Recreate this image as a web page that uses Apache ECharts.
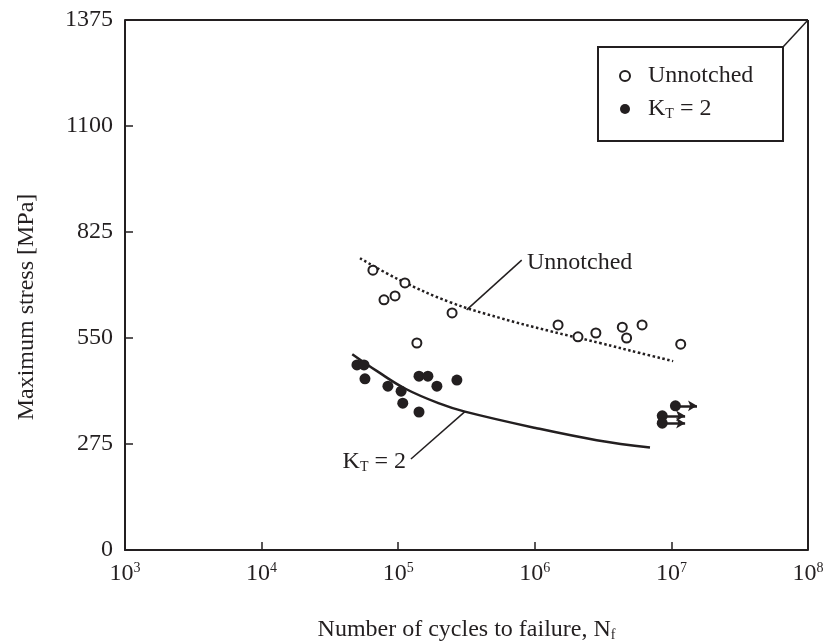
<!DOCTYPE html>
<html>
<head>
<meta charset="utf-8">
<script src="https://cdn.jsdelivr.net/npm/echarts@6/dist/echarts.min.js"></script>
<style>
  html, body { margin: 0; padding: 0; background: #fff; }
  #main { width: 823px; height: 642px; }
</style>
</head>
<body>
<div id="main"></div>
<script>
// valores (N ciclos, tensão máxima em MPa)
const unnotchedN = [65300, 112000, 78700, 94800, 248000, 137000, 1480000, 2070000, 2800000, 4370000, 4700000, 6100000, 11700000];
const unnotchedS = [726, 693, 649, 659, 615, 537, 584, 553, 563, 578, 550, 584, 534];

const notchedN = [49900, 56200, 57100, 84100, 105000, 108000, 142000, 165000, 192000, 269000, 142000, 10700000, 8570000, 8570000];
const notchedS = [480, 480, 444, 425, 412, 381, 451, 451, 425, 441, 358, 374, 348, 329];

// run-outs (setas)
const runoutStartN = [10700000, 8570000, 8570000];
const runoutEndN = [15400000, 12600000, 12600000];
const runoutS = [374, 348, 329];

// curvas ajustadas
const unnotchedCurveN = [52500, 103000, 239000, 556000, 1290000, 3000000, 5890000, 10300000];
const unnotchedCurveS = [757, 700, 643, 602, 568, 537, 511, 490];
const notchedCurveN = [46100, 71400, 112000, 197000, 308000, 1030000, 2840000, 6970000];
const notchedCurveS = [508, 462, 419, 381, 359, 316, 285, 266];

const yTicks = [0, 275, 550, 825, 1100, 1375];

const FONT = '"Liberation Serif", "DejaVu Serif", serif';
const INK = '#231f20';
const FS = 24;

const zip = (a, b) => a.map((v, i) => [v, b[i]]);

const chart = echarts.init(document.getElementById('main'));

const subStyle = { fontFamily: FONT, fontSize: 14, color: INK, verticalAlign: 'bottom', padding: [11, 0, 0, 0] };

const option = {
  animation: false,
  backgroundColor: '#fff',
  grid: { left: 125, right: 15, top: 20, bottom: 92, show: false, containLabel: false, outerBoundsMode: 'none' },
  xAxis: {
    type: 'log',
    logBase: 10,
    min: 1e3,
    max: 1e8,
    name: '{n|Number of cycles to failure, N}{s|f}',
    nameLocation: 'middle',
    nameGap: 67,
    nameTextStyle: {
      fontFamily: FONT, fontSize: FS, color: INK,
      rich: {
        n: { fontFamily: FONT, fontSize: FS, color: INK },
        s: subStyle
      }
    },
    axisLine: { show: true, lineStyle: { color: INK, width: 2 } },
    axisTick: { show: true, inside: true, length: 8, lineStyle: { color: INK, width: 1.5 } },
    minorTick: { show: false },
    splitLine: { show: false },
    axisLabel: {
      margin: 11,
      formatter: v => '{b|10}{e|' + Math.round(Math.log10(v)) + '}',
      rich: {
        b: { fontFamily: FONT, fontSize: FS, color: INK },
        e: { fontFamily: FONT, fontSize: 14, color: INK, verticalAlign: 'top', padding: [0, 0, 12, 0] }
      }
    }
  },
  yAxis: {
    type: 'value',
    min: yTicks[0],
    max: yTicks[yTicks.length - 1],
    interval: 275,
    name: 'Maximum stress [MPa]',
    nameLocation: 'middle',
    nameGap: 86,
    // desloca o título ~22px para baixo, como no original
    nameTextStyle: { fontFamily: FONT, fontSize: FS, color: INK, padding: [0, 44, 0, 0] },
    axisLine: { show: true, lineStyle: { color: INK, width: 2 } },
    axisTick: { show: true, inside: true, length: 8, lineStyle: { color: INK, width: 1.5 } },
    splitLine: { show: false },
    axisLabel: { fontFamily: FONT, fontSize: FS, color: INK, margin: 12, formatter: v => String(v) }
  },
  legend: {
    orient: 'vertical',
    left: 614,
    top: 59,
    itemWidth: 26,
    itemHeight: 10,
    itemGap: 9,
    textStyle: {
      fontFamily: FONT, fontSize: FS, color: INK, padding: [0, 0, 0, 5],
      rich: {
        a: { fontFamily: FONT, fontSize: FS, color: INK },
        s: subStyle
      }
    },
    formatter: name => name === 'Unnotched' ? '{a|Unnotched}' : '{a|K}{s|T}{a| = 2}',
    data: [
      { name: 'Unnotched', icon: 'emptyCircle' },
      { name: 'KT', icon: 'circle' }
    ]
  },
  graphic: [
    // caixa da legenda com a linha diagonal ao canto
    { type: 'rect', shape: { x: 598, y: 47, width: 185, height: 94 }, style: { fill: 'none', stroke: INK, lineWidth: 2 }, z: 10 },
    { type: 'line', shape: { x1: 783, y1: 47, x2: 808, y2: 20 }, style: { stroke: INK, lineWidth: 1.5 }, z: 10 },
    // borda superior e direita do gráfico
    { type: 'line', shape: { x1: 125, y1: 20, x2: 808, y2: 20 }, style: { stroke: INK, lineWidth: 2 }, z: 10 },
    { type: 'line', shape: { x1: 808, y1: 20, x2: 808, y2: 550 }, style: { stroke: INK, lineWidth: 2 }, z: 10 },
    // rótulos das curvas
    { type: 'text', x: 527, y: 263, style: { text: 'Unnotched', fontFamily: FONT, fontSize: FS, fill: INK, verticalAlign: 'middle' }, z: 10 },
    {
      type: 'text', x: 406, y: 462,
      style: {
        text: '{a|K}{s|T}{a| = 2}', align: 'right', verticalAlign: 'middle',
        rich: {
          a: { fontFamily: FONT, fontSize: FS, fill: INK },
          s: { fontFamily: FONT, fontSize: 14, fill: INK, verticalAlign: 'bottom', padding: [11, 0, 0, 0] }
        }
      },
      z: 10
    }
  ],
  series: [
    {
      name: 'Unnotched',
      type: 'scatter',
      symbol: 'emptyCircle',
      symbolSize: 9,
      itemStyle: { color: INK, borderColor: INK, borderWidth: 2, opacity: 1 },
      data: zip(unnotchedN, unnotchedS),
      z: 5
    },
    {
      name: 'KT',
      type: 'scatter',
      symbol: 'circle',
      symbolSize: 11,
      itemStyle: { color: INK, opacity: 1 },
      data: zip(notchedN, notchedS),
      markLine: {
        silent: true,
        symbol: ['none', 'arrow'],
        symbolSize: [8, 9],
        label: { show: false },
        lineStyle: { color: INK, width: 2.5, type: 'solid' },
        data: runoutS.map((s, i) => [{ coord: [runoutStartN[i], s] }, { coord: [runoutEndN[i], s] }])
      },
      z: 5
    },
    {
      name: 'Unnotched fit',
      type: 'line',
      smooth: 0.4,
      showSymbol: false,
      symbol: 'none',
      lineStyle: { color: INK, width: 2.5, type: [2.5, 2.5] },
      data: zip(unnotchedCurveN, unnotchedCurveS),
      markLine: {
        silent: true,
        symbol: 'none',
        label: { show: false },
        lineStyle: { color: INK, width: 1.5, type: 'solid' },
        data: [[{ coord: [317000, 623] }, { coord: [802000, 752] }]]
      },
      z: 4
    },
    {
      name: 'KT fit',
      type: 'line',
      smooth: 0.4,
      showSymbol: false,
      symbol: 'none',
      lineStyle: { color: INK, width: 2.5 },
      data: zip(notchedCurveN, notchedCurveS),
      markLine: {
        silent: true,
        symbol: 'none',
        label: { show: false },
        lineStyle: { color: INK, width: 1.5, type: 'solid' },
        data: [[{ coord: [308000, 359] }, { coord: [124000, 236] }]]
      },
      z: 4
    }
  ]
};

chart.setOption(option);
</script>
</body>
</html>
